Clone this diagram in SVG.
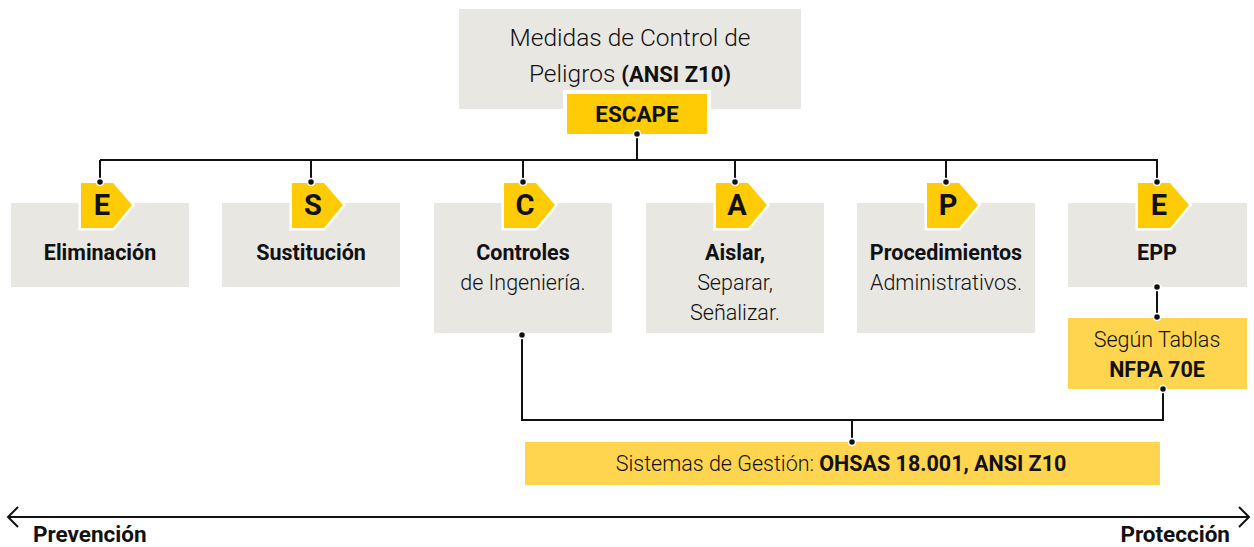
<svg xmlns="http://www.w3.org/2000/svg" width="1254" height="547" viewBox="0 0 1254 547">
<defs>
<style>
.box{fill:#E8E7E2}
.tag{fill:#FFCB05;stroke:#fff;stroke-width:5;paint-order:stroke;stroke-linejoin:miter}
.t{font-family:Roboto,"Liberation Sans",sans-serif;fill:#111;text-anchor:middle}
.b{font-weight:700}
.l{font-weight:300}
.ln{fill:none;stroke:#111;stroke-width:2}
.dot{fill:#111;stroke:#fff;stroke-width:1.5}
.letter{font-family:Roboto,"Liberation Sans",sans-serif;font-weight:700;font-size:29px;fill:#111;text-anchor:middle}
</style>
<g id="tagshape"><polygon class="tag" points="-19,-22 13,-22 32,0 13,23 -19,23"/></g>
</defs>
<rect width="1254" height="547" fill="#fff"/>

<g id="connectors">
<path class="ln" d="M637,134 V160 M100,160 H1158 M100,160 V182 M311,160 V182 M523,160 V182 M735,160 V182 M946,160 V182 M1157,160 V182"/>
<path class="ln" d="M1157,287 V318"/>
<path class="ln" d="M522,335 V420 H1163 V389 M852,420 V442"/>
<path class="ln" d="M8,517 H1248 M18,507 L8,517 L18,527 M1239,507 L1249,517 L1239,527"/>
</g>

<g id="title">
<rect class="box" x="459" y="9" width="342" height="100"/>
<text class="t l" x="630" y="46" font-size="24.5">Medidas de Control de</text>
<text class="t" x="630" y="82" font-size="24.5"><tspan class="l">Peligros </tspan><tspan class="b" font-size="22">(ANSI Z10)</tspan></text>
</g>

<g id="escape">
<rect x="563" y="90" width="148" height="48" fill="#fff"/>
<rect x="567" y="94" width="140" height="40" fill="#FFCB05"/>
<text class="t b" x="637" y="122" font-size="22.5">ESCAPE</text>
<circle class="dot" cx="637" cy="134" r="3.5"/>
</g>

<g id="n-eliminacion">
<rect class="box" x="11" y="203" width="178" height="84"/>
<use href="#tagshape" x="100" y="205"/>
<text class="letter" x="102" y="215">E</text>
<circle class="dot" cx="100" cy="182" r="3.5"/>
<text class="t b" x="100" y="260" font-size="21.5">Eliminación</text>
</g>

<g id="n-sustitucion">
<rect class="box" x="222" y="203" width="178" height="84"/>
<use href="#tagshape" x="311" y="205"/>
<text class="letter" x="313" y="215">S</text>
<circle class="dot" cx="311" cy="182" r="3.5"/>
<text class="t b" x="311" y="260" font-size="21.5">Sustitución</text>
</g>

<g id="n-controles">
<rect class="box" x="434" y="203" width="178" height="130"/>
<use href="#tagshape" x="523" y="205"/>
<text class="letter" x="525" y="215">C</text>
<circle class="dot" cx="523" cy="182" r="3.5"/>
<text class="t b" x="523" y="260" font-size="21.5">Controles</text>
<text class="t l" x="523" y="290" font-size="21.5">de Ingeniería.</text>
<circle class="dot" cx="522" cy="335" r="3.5"/>
</g>

<g id="n-aislar">
<rect class="box" x="646" y="203" width="178" height="130"/>
<use href="#tagshape" x="735" y="205"/>
<text class="letter" x="737" y="215">A</text>
<circle class="dot" cx="735" cy="182" r="3.5"/>
<text class="t b" x="735" y="260" font-size="21.5">Aislar,</text>
<text class="t l" x="735" y="290" font-size="21.5">Separar,</text>
<text class="t l" x="735" y="320" font-size="21.5">Señalizar.</text>
</g>

<g id="n-procedimientos">
<rect class="box" x="857" y="203" width="178" height="130"/>
<use href="#tagshape" x="946" y="205"/>
<text class="letter" x="948" y="215">P</text>
<circle class="dot" cx="946" cy="182" r="3.5"/>
<text class="t b" x="946" y="260" font-size="21.5">Procedimientos</text>
<text class="t l" x="946" y="290" font-size="21.5">Administrativos.</text>
</g>

<g id="n-epp">
<rect class="box" x="1068" y="203" width="179" height="84"/>
<use href="#tagshape" x="1157" y="205"/>
<text class="letter" x="1159" y="215">E</text>
<circle class="dot" cx="1157" cy="182" r="3.5"/>
<text class="t b" x="1157" y="260" font-size="21.5">EPP</text>
<circle class="dot" cx="1157" cy="287" r="3.5"/>
</g>

<g id="n-nfpa">
<rect x="1068" y="318" width="179" height="71" fill="#FFD54F"/>
<circle class="dot" cx="1157" cy="317" r="3.5"/>
<text class="t l" x="1157" y="347" font-size="21.5">Según Tablas</text>
<text class="t b" x="1157" y="377" font-size="21.5">NFPA 70E</text>
<circle class="dot" cx="1163" cy="389" r="3.5"/>
</g>

<g id="n-sistemas">
<rect x="525" y="442" width="635" height="43" fill="#FFD54F"/>
<circle class="dot" cx="852" cy="442" r="3.5"/>
<text class="t" x="841" y="471" font-size="21.5"><tspan class="l">Sistemas de Gestión: </tspan><tspan class="b">OHSAS 18.001, ANSI Z10</tspan></text>
</g>

<g id="axis-labels">
<text class="t b" x="33" y="542" font-size="22.5" style="text-anchor:start">Prevención</text>
<text class="t b" x="1230" y="542" font-size="22.5" style="text-anchor:end">Protección</text>
</g>
</svg>
